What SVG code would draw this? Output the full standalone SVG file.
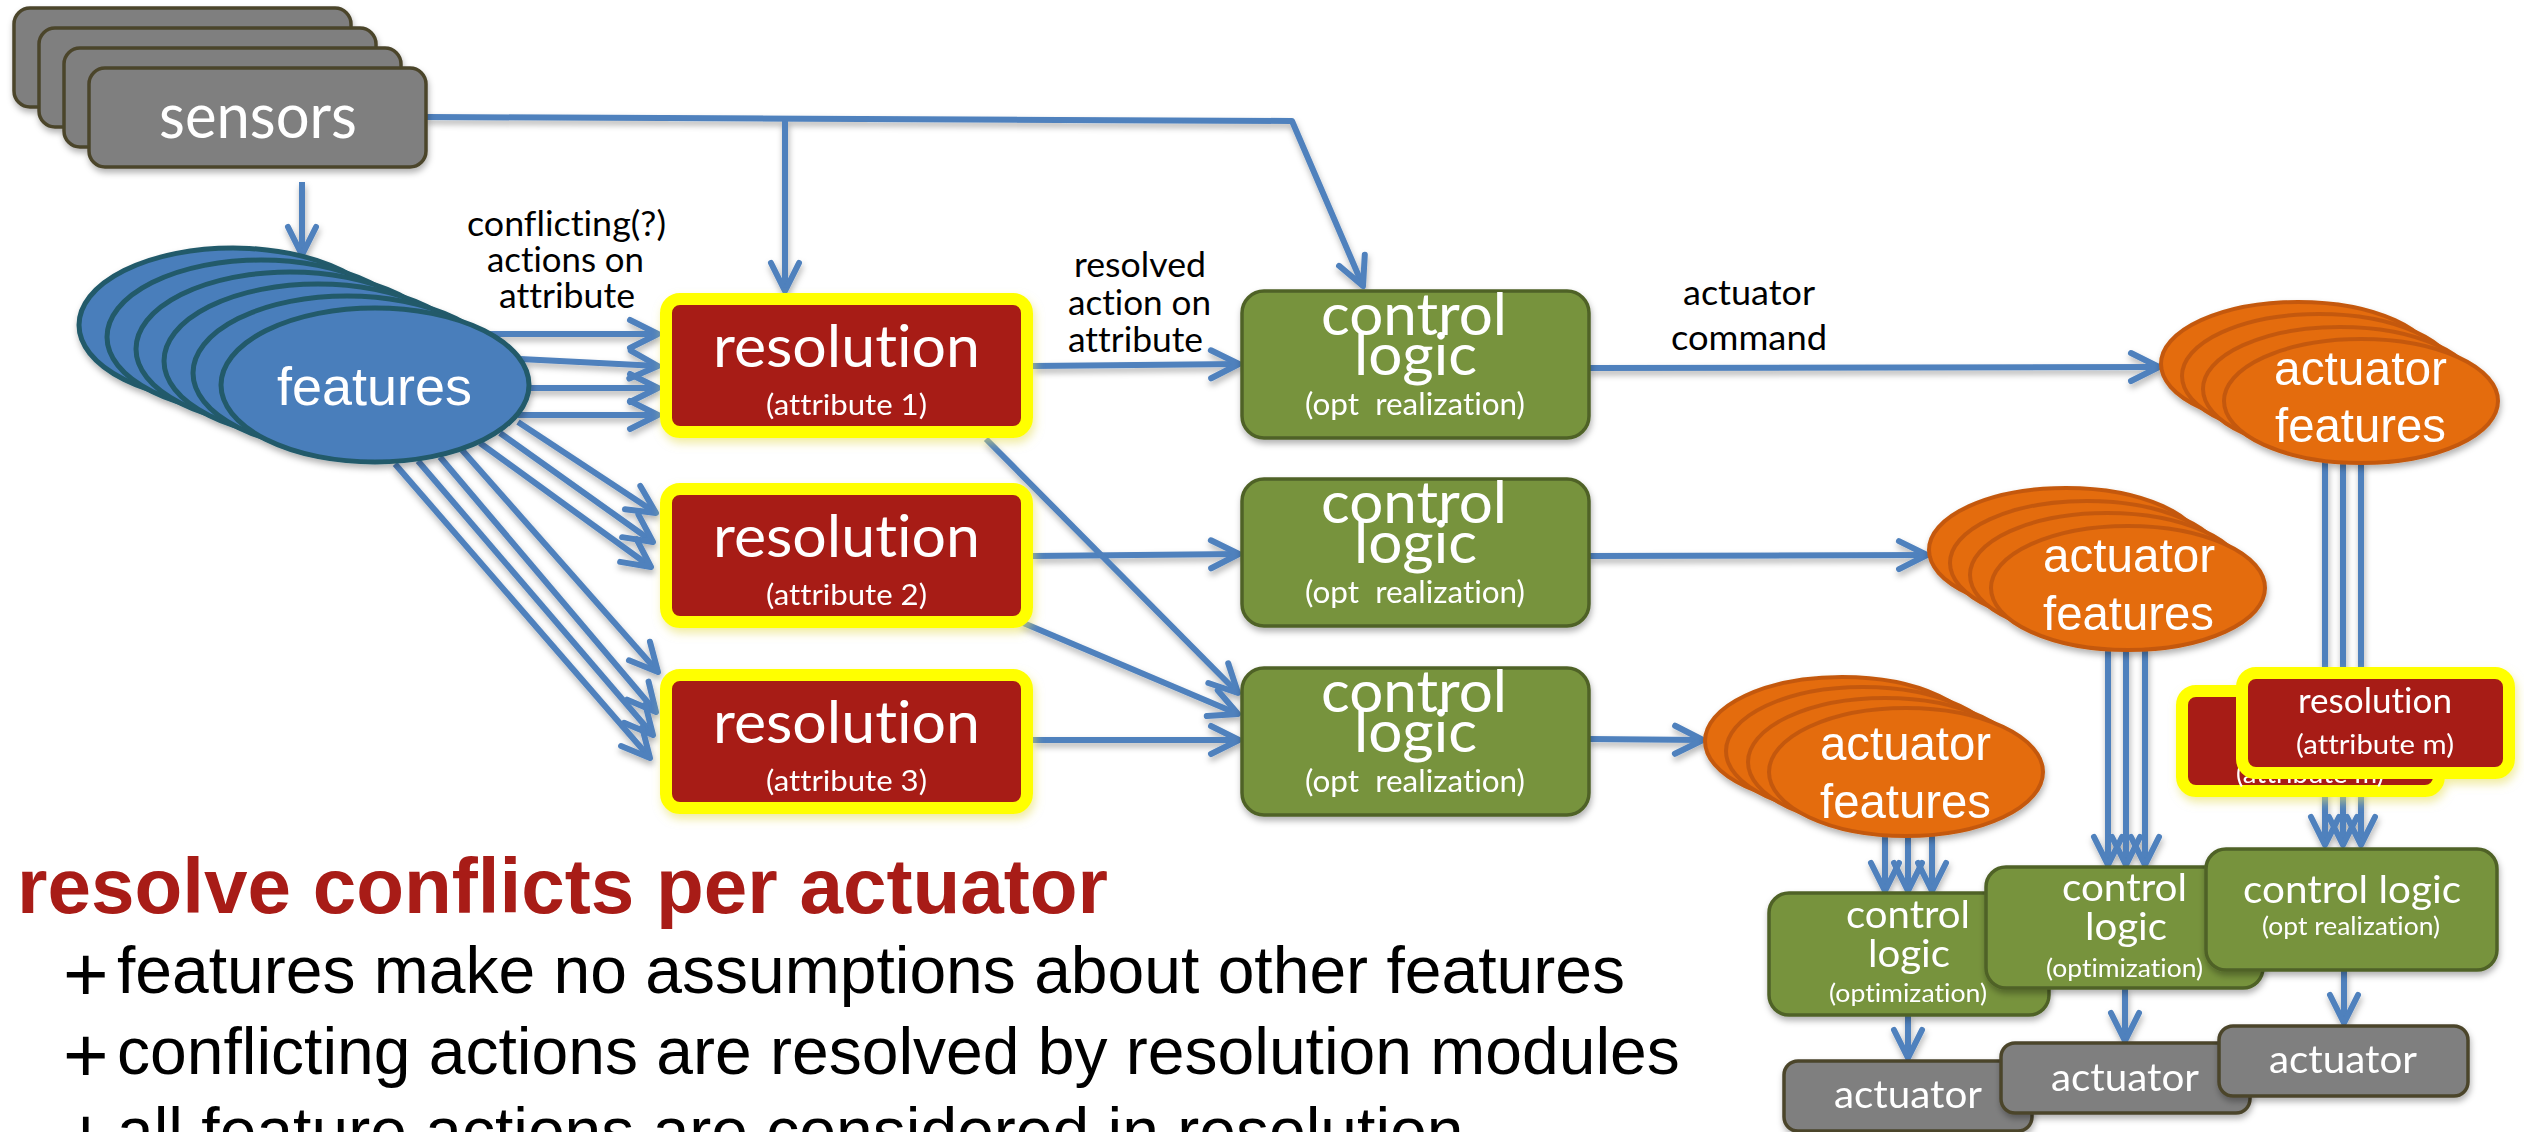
<svg xmlns="http://www.w3.org/2000/svg" width="2524" height="1132" viewBox="0 0 2524 1132">
<style>
text{font-variant-ligatures:none;font-feature-settings:"liga" 0,"clig" 0,"dlig" 0}
.n{font-family:Lato,"Open Sans","Liberation Sans",sans-serif;fill:#fff}
.a{font-family:"Liberation Sans",Arial,sans-serif;fill:#fff}
.lab{font-family:Lato,"Open Sans","Liberation Sans",sans-serif;fill:#000;font-size:35px}
.gray{fill:#7f7f7f;stroke:#4b452c;stroke-width:3.5}
.blue{fill:#4a7ebb;stroke:#215a6b;stroke-width:5}
.res{fill:#a71b15;stroke:#ffff00;stroke-width:12}
.grn{fill:#77933c;stroke:#4f6228;stroke-width:3.5}
.org{fill:#e46c0a;stroke:#c4590b;stroke-width:4}
.con path{fill:none;stroke:#4f81bd;stroke-width:6;stroke-linejoin:round;marker-end:url(#ah)}
.ttl{font-family:"Liberation Sans",Arial,sans-serif;font-weight:bold;font-size:78px;fill:#a81c17}
.bul{font-family:"Liberation Sans",Arial,sans-serif;font-size:66px;fill:#000}
.plus{font-family:"Liberation Sans",Arial,sans-serif;font-size:78px;fill:#000}
</style>
<defs>
  <filter id="sh" filterUnits="userSpaceOnUse" x="0" y="0" width="2524" height="1132">
    <feDropShadow dx="1" dy="4" stdDeviation="3" flood-color="#000" flood-opacity="0.3"/>
  </filter>
  <filter id="ysh" filterUnits="userSpaceOnUse" x="0" y="0" width="2524" height="1132">
    <feDropShadow dx="2" dy="5" stdDeviation="5" flood-color="#e6de60" flood-opacity="0.6"/>
  </filter>
  <marker id="ah" markerUnits="userSpaceOnUse" viewBox="-40 -20 48 40" refX="0" refY="0" markerWidth="48" markerHeight="40" orient="auto">
    <path d="M-28,-14 L0,0 L-28,14" fill="none" stroke="#4f81bd" stroke-width="6" stroke-linejoin="round" stroke-linecap="round"/>
  </marker>
</defs>

<!-- connectors -->
<g id="connectors" class="con" filter="url(#sh)">
  <path d="M302,182 L302,255"/>
  <path d="M426,117 L1292,121 L1363,286"/>
  <path d="M785,119 L785,291"/>
  <!-- features to resolution 1 -->
  <path d="M490,334 L658,334"/>
  <path d="M520,359 L658,366"/>
  <path d="M528,388 L658,388"/>
  <path d="M518,415 L658,415"/>
  <!-- features to resolution 2 -->
  <path d="M518,422 L656,513"/>
  <path d="M500,433 L653,542"/>
  <path d="M480,443 L651,567"/>
  <!-- features to resolution 3 -->
  <path d="M462,450 L658,672"/>
  <path d="M440,457 L656,712"/>
  <path d="M418,461 L653,735"/>
  <path d="M395,464 L650,758"/>
  <!-- resolution to control logic -->
  <path d="M1033,366 L1239,364"/>
  <path d="M1033,556 L1239,554"/>
  <path d="M1033,740 L1239,740"/>
  <path d="M986,439 L1238,693"/>
  <path d="M1021,622 L1238,714"/>
  <!-- control logic to actuator features -->
  <path d="M1589,368 L2159,367"/>
  <path d="M1589,556 L1927,555"/>
  <path d="M1589,739 L1703,740"/>
  <!-- actuator features down -->
  <path d="M2325,462 L2325,845"/>
  <path d="M2343,462 L2343,845"/>
  <path d="M2361,462 L2361,845"/>
  <path d="M2108,648 L2108,865"/>
  <path d="M2126,648 L2126,865"/>
  <path d="M2145,648 L2145,865"/>
  <path d="M1885,836 L1885,891"/>
  <path d="M1908,836 L1908,891"/>
  <path d="M1932,836 L1932,891"/>
  <!-- control logic to actuator -->
  <path d="M1908,1015 L1908,1058"/>
  <path d="M2125,988 L2125,1041"/>
  <path d="M2344,970 L2344,1023"/>
</g>

<!-- sensors stack -->
<g id="sensors" filter="url(#sh)">
  <rect class="gray" x="14" y="8" width="337" height="99" rx="16"/>
  <rect class="gray" x="39" y="28" width="337" height="99" rx="16"/>
  <rect class="gray" x="64" y="48" width="337" height="99" rx="16"/>
  <rect class="gray" x="89" y="68" width="337" height="99" rx="16"/>
  <text class="n" x="159" y="138" font-size="61" textLength="198" lengthAdjust="spacingAndGlyphs">sensors</text>
</g>

<!-- features stack -->
<g id="features" filter="url(#sh)">
  <ellipse class="blue" cx="233" cy="325" rx="154" ry="77"/>
  <ellipse class="blue" cx="261" cy="337" rx="154" ry="77"/>
  <ellipse class="blue" cx="290" cy="349" rx="154" ry="77"/>
  <ellipse class="blue" cx="318" cy="361" rx="154" ry="77"/>
  <ellipse class="blue" cx="347" cy="373" rx="154" ry="77"/>
  <ellipse class="blue" cx="375" cy="385" rx="154" ry="77"/>
  <text class="a" x="277" y="405" font-size="54" textLength="195" lengthAdjust="spacingAndGlyphs">features</text>
</g>

<!-- edge labels -->
<g id="labels">
  <text class="lab" x="467" y="236" textLength="199" lengthAdjust="spacingAndGlyphs">conflicting(?)</text>
  <text class="lab" x="487" y="272" textLength="157" lengthAdjust="spacingAndGlyphs">actions on</text>
  <text class="lab" x="499" y="308" textLength="136" lengthAdjust="spacingAndGlyphs">attribute</text>
  <text class="lab" x="1074" y="277" textLength="132" lengthAdjust="spacingAndGlyphs">resolved</text>
  <text class="lab" x="1068" y="315" textLength="143" lengthAdjust="spacingAndGlyphs">action on</text>
  <text class="lab" x="1068" y="352" textLength="135" lengthAdjust="spacingAndGlyphs">attribute</text>
  <text class="lab" x="1683" y="305" textLength="132" lengthAdjust="spacingAndGlyphs">actuator</text>
  <text class="lab" x="1671" y="350" textLength="156" lengthAdjust="spacingAndGlyphs">command</text>
</g>

<!-- resolution modules -->
<g id="res1" filter="url(#ysh)">
  <rect class="res" x="666" y="299" width="361" height="133" rx="14"/>
  <text class="n" x="713" y="367" font-size="59" textLength="267" lengthAdjust="spacingAndGlyphs">resolution</text>
  <text class="n" x="766" y="415" font-size="29.5" textLength="161" lengthAdjust="spacingAndGlyphs">(attribute 1)</text>
</g>
<g id="res2" filter="url(#ysh)">
  <rect class="res" x="666" y="489" width="361" height="133" rx="14"/>
  <text class="n" x="713" y="557" font-size="59" textLength="267" lengthAdjust="spacingAndGlyphs">resolution</text>
  <text class="n" x="766" y="605" font-size="29.5" textLength="161" lengthAdjust="spacingAndGlyphs">(attribute 2)</text>
</g>
<g id="res3" filter="url(#ysh)">
  <rect class="res" x="666" y="675" width="361" height="133" rx="14"/>
  <text class="n" x="713" y="743" font-size="59" textLength="267" lengthAdjust="spacingAndGlyphs">resolution</text>
  <text class="n" x="766" y="791" font-size="29.5" textLength="161" lengthAdjust="spacingAndGlyphs">(attribute 3)</text>
</g>

<!-- control logic modules -->
<g id="cl1" filter="url(#sh)">
  <rect class="grn" x="1242" y="291" width="347" height="147" rx="22"/>
  <text class="n" x="1321" y="335" font-size="59" textLength="186" lengthAdjust="spacingAndGlyphs">control</text>
  <text class="n" x="1354" y="375" font-size="59" textLength="123" lengthAdjust="spacingAndGlyphs">logic</text>
  <text class="n" x="1305" y="415" font-size="30" textLength="220" lengthAdjust="spacingAndGlyphs" xml:space="preserve">(opt  realization)</text>
</g>
<g id="cl2" filter="url(#sh)">
  <rect class="grn" x="1242" y="479" width="347" height="147" rx="22"/>
  <text class="n" x="1321" y="523" font-size="59" textLength="186" lengthAdjust="spacingAndGlyphs">control</text>
  <text class="n" x="1354" y="563" font-size="59" textLength="123" lengthAdjust="spacingAndGlyphs">logic</text>
  <text class="n" x="1305" y="603" font-size="30" textLength="220" lengthAdjust="spacingAndGlyphs" xml:space="preserve">(opt  realization)</text>
</g>
<g id="cl3" filter="url(#sh)">
  <rect class="grn" x="1242" y="668" width="347" height="147" rx="22"/>
  <text class="n" x="1321" y="712" font-size="59" textLength="186" lengthAdjust="spacingAndGlyphs">control</text>
  <text class="n" x="1354" y="752" font-size="59" textLength="123" lengthAdjust="spacingAndGlyphs">logic</text>
  <text class="n" x="1305" y="792" font-size="30" textLength="220" lengthAdjust="spacingAndGlyphs" xml:space="preserve">(opt  realization)</text>
</g>

<!-- actuator feature stacks -->
<g id="af1" filter="url(#sh)">
  <ellipse class="org" cx="2298" cy="364" rx="137" ry="62"/>
  <ellipse class="org" cx="2319" cy="376" rx="137" ry="62"/>
  <ellipse class="org" cx="2340" cy="389" rx="137" ry="62"/>
  <ellipse class="org" cx="2361" cy="401" rx="137" ry="62"/>
  <text class="a" x="2274" y="385" font-size="48" textLength="173" lengthAdjust="spacingAndGlyphs">actuator</text>
  <text class="a" x="2275" y="442" font-size="48" textLength="171" lengthAdjust="spacingAndGlyphs">features</text>
</g>
<g id="af2" filter="url(#sh)">
  <ellipse class="org" cx="2066" cy="550" rx="137" ry="62"/>
  <ellipse class="org" cx="2087" cy="563" rx="137" ry="62"/>
  <ellipse class="org" cx="2107" cy="575" rx="137" ry="62"/>
  <ellipse class="org" cx="2128" cy="588" rx="137" ry="62"/>
  <text class="a" x="2043" y="572" font-size="48" textLength="172" lengthAdjust="spacingAndGlyphs">actuator</text>
  <text class="a" x="2043" y="630" font-size="48" textLength="171" lengthAdjust="spacingAndGlyphs">features</text>
</g>
<g id="af3" filter="url(#sh)">
  <ellipse class="org" cx="1842" cy="741" rx="137" ry="64"/>
  <ellipse class="org" cx="1863" cy="751" rx="137" ry="64"/>
  <ellipse class="org" cx="1885" cy="762" rx="137" ry="64"/>
  <ellipse class="org" cx="1906" cy="772" rx="137" ry="64"/>
  <text class="a" x="1820" y="760" font-size="48" textLength="171" lengthAdjust="spacingAndGlyphs">actuator</text>
  <text class="a" x="1820" y="818" font-size="48" textLength="171" lengthAdjust="spacingAndGlyphs">features</text>
</g>

<!-- per-actuator resolution modules -->
<g id="resm" filter="url(#ysh)">
  <rect class="res" x="2182" y="691" width="257" height="100" rx="14"/>
  <text class="n" x="2236" y="783" font-size="27.5" textLength="148" lengthAdjust="spacingAndGlyphs">(attribute m)</text>
  <rect class="res" x="2242" y="673" width="267" height="100" rx="14"/>
  <text class="n" x="2298" y="713" font-size="34" textLength="154" lengthAdjust="spacingAndGlyphs">resolution</text>
  <text class="n" x="2296" y="754" font-size="27.5" textLength="158" lengthAdjust="spacingAndGlyphs">(attribute m)</text>
</g>

<!-- per-actuator control logic -->
<g id="cla" filter="url(#sh)">
  <rect class="grn" x="1769" y="893" width="280" height="122" rx="20"/>
  <text class="n" x="1846" y="928" font-size="39.5" textLength="124" lengthAdjust="spacingAndGlyphs">control</text>
  <text class="n" x="1868" y="967" font-size="39.5" textLength="82" lengthAdjust="spacingAndGlyphs">logic</text>
  <text class="n" x="1829" y="1002" font-size="25" textLength="158" lengthAdjust="spacingAndGlyphs">(optimization)</text>
</g>
<g id="clb" filter="url(#sh)">
  <rect class="grn" x="1986" y="867" width="277" height="121" rx="20"/>
  <text class="n" x="2062" y="901" font-size="39.5" textLength="125" lengthAdjust="spacingAndGlyphs">control</text>
  <text class="n" x="2085" y="940" font-size="39.5" textLength="82" lengthAdjust="spacingAndGlyphs">logic</text>
  <text class="n" x="2046" y="977" font-size="25" textLength="157" lengthAdjust="spacingAndGlyphs">(optimization)</text>
</g>
<g id="clc" filter="url(#sh)">
  <rect class="grn" x="2206" y="849" width="291" height="121" rx="20"/>
  <text class="n" x="2243" y="903" font-size="39.5" textLength="218" lengthAdjust="spacingAndGlyphs">control logic</text>
  <text class="n" x="2262" y="935" font-size="25" textLength="178" lengthAdjust="spacingAndGlyphs">(opt realization)</text>
</g>

<!-- actuators -->
<g id="acta" filter="url(#sh)">
  <rect class="gray" x="1784" y="1061" width="248" height="70" rx="14"/>
  <text class="n" x="1834" y="1108" font-size="39.5" textLength="148" lengthAdjust="spacingAndGlyphs">actuator</text>
</g>
<g id="actb" filter="url(#sh)">
  <rect class="gray" x="2001" y="1043" width="249" height="70" rx="14"/>
  <text class="n" x="2051" y="1091" font-size="39.5" textLength="148" lengthAdjust="spacingAndGlyphs">actuator</text>
</g>
<g id="actc" filter="url(#sh)">
  <rect class="gray" x="2219" y="1026" width="249" height="70" rx="14"/>
  <text class="n" x="2269" y="1073" font-size="39.5" textLength="148" lengthAdjust="spacingAndGlyphs">actuator</text>
</g>

<!-- caption -->
<g id="caption">
  <text class="ttl" x="17" y="913" textLength="1091" lengthAdjust="spacingAndGlyphs">resolve conflicts per actuator</text>
  <text class="plus" x="63" y="1001">+</text>
  <text class="bul" x="117" y="993">features make no assumptions about other features</text>
  <text class="plus" x="63" y="1082">+</text>
  <text class="bul" x="117" y="1074">conflicting actions are resolved by resolution modules</text>
  <text class="plus" x="63" y="1162">+</text>
  <text class="bul" x="117" y="1154">all feature actions are considered in resolution</text>
</g>
</svg>
